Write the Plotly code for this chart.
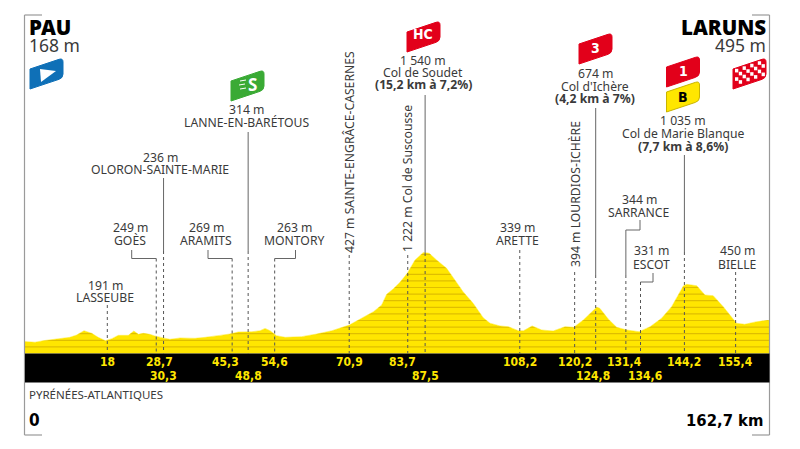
import plotly.graph_objects as go

# profile: km, metres
km = [0, 2.2, 4, 6.9, 9.8, 11.3, 12.9, 14.6, 16, 17.6, 19, 20.4, 22.6, 23.8, 24.8, 25.9, 27.3, 28.4, 29.9, 31.7,
      33.9, 36.1, 37.2, 39.4, 42.3, 44.8, 46.6, 49.6, 51.4, 52.5, 53.6, 55, 56.9, 60.5, 63.8, 67.1, 70.9, 73.3,
      76.2, 78, 79.1, 80.5, 82, 83.6, 85.3, 87.1, 88.4, 90, 92.2, 94, 95.8, 98, 100.2, 101.7, 103.9, 105.7, 107.9,
      109, 110.9, 113, 115.5, 118.1, 120, 122.1, 125, 125.7, 127.6, 129.4, 131.6, 134.3, 136.7, 139.2, 141.4,
      144, 144.7, 146.9, 148.7, 150.5, 152.7, 155.6, 157.4, 160, 162.5, 162.7]
elev = [180, 170, 194, 220, 245, 280, 345, 305, 245, 194, 225, 275, 275, 340, 290, 305, 290, 265, 240, 215,
        235, 230, 230, 245, 270, 295, 325, 330, 345, 380, 345, 270, 245, 255, 295, 345, 430, 522,
        633, 735, 897, 977, 1079, 1215, 1417, 1530, 1518, 1417, 1291, 1114, 936, 761, 542, 458, 417, 406, 345,
        345, 417, 356, 341, 406, 397, 508, 700, 685, 518, 397, 356, 330, 406, 533, 709,
        1027, 1048, 1027, 886, 876, 709, 458, 442, 482, 508, 500]

stripe_levels = list(range(100, 1600, 100))

# km marks in the black band: value, label, row, label shift in px
marks_km = [18, 28.7, 30.3, 45.3, 48.8, 54.6, 70.9, 83.7, 87.5, 108.2, 120.2, 124.8, 131.4, 134.6, 144.2, 155.4]
marks_txt = ["18", "28,7", "30,3", "45,3", "48,8", "54,6", "70,9", "83,7", "87,5", "108,2", "120,2", "124,8",
             "131,4", "134,6", "144,2", "155,4"]
marks_row = [0, 0, 1, 0, 1, 0, 0, 0, 1, 0, 0, 1, 0, 1, 0, 0]
marks_shift = [0, 3, 0, -7, 0, 0, 0, -5, 0, 0, 0, -3, -1, 4, 0, 0]

TEXT = "#3a3a3a"
GREY = "#9a9a9a"
RED = "#e2001a"
FONT = "Noto Sans"
NARROW = "DejaVu Sans Condensed, Roboto"

W, H = 800, 449
X0, X1 = 25, 769
Y0 = 353.5
PX_KM = (X1 - X0) / 162.7
PX_M = 0.066


def px(x):
    return x / W


def py(y):
    return 1 - y / H


def km_px(k):
    return X0 + k * PX_KM


fig = go.Figure()
fig.add_trace(go.Scatter(x=km, y=elev, fill="tozeroy", fillcolor="#ffe600", mode="none"))
for lev in stripe_levels:
    fig.add_trace(go.Scatter(x=[0, 162.7], y=[lev, lev], mode="lines", line=dict(color="#dfbe00", width=1.2)))
# white above the profile hides the stripes outside the hill
fig.add_trace(go.Scatter(x=km + [162.7, 0], y=elev + [1650, 1650], fill="toself", fillcolor="white", mode="none"))
fig.add_trace(go.Scatter(x=km, y=elev, mode="lines", line=dict(color="#ffe600", width=0.5)))

shapes = []
annots = []


def line(x0, y0, x1, y1, color=GREY, width=1.2, dash=None):
    shapes.append(dict(type="line", xref="paper", yref="paper", x0=px(x0), y0=py(y0), x1=px(x1), y1=py(y1),
                       line=dict(color=color, width=width, dash=dash)))


def text(x, y, s, size=12.2, color=TEXT, anchor="center", bold=False, family=FONT, angle=0, weight=None):
    if bold:
        s = "<b>" + s + "</b>"
    font = dict(size=size, color=color, family=family)
    if weight:
        font["weight"] = weight
    annots.append(dict(xref="paper", yref="paper", x=px(x), y=py(y), text=s, showarrow=False, xanchor=anchor,
                       yanchor="middle", textangle=angle, font=font, borderpad=0, borderwidth=0))


def flag_path(x, y, w=33, h=20, rise=11, r=4):
    # slanted flag with two rounded corners
    return (f"M {px(x)},{py(y)} L {px(x + w - r)},{py(y - rise + r * rise / w)} "
            f"Q {px(x + w)},{py(y - rise)} {px(x + w)},{py(y - rise + r)} L {px(x + w)},{py(y - rise + h - r)} "
            f"Q {px(x + w)},{py(y - rise + h)} {px(x + w - r)},{py(y - rise + h + r * rise / w)} "
            f"L {px(x)},{py(y + h)} Z")


def flag(x, y, fill, border=None, **kw):
    shapes.append(dict(type="path", xref="paper", yref="paper", path=flag_path(x, y, **kw), fillcolor=fill,
                       line=dict(color=border or fill, width=1)))


# frame
line(X0 - 0.5, 15, X0 - 0.5, 435)
line(X0 - 0.5, 15, 42, 15)
line(X0 - 0.5, 435, 42, 435)
line(X1 + 0.5, 15, X1 + 0.5, 435)
line(752, 15, X1 + 0.5, 15)
line(752, 435, X1 + 0.5, 435)

# black band
shapes.append(dict(type="rect", xref="paper", yref="paper", x0=px(X0), x1=px(X1 + 0.5), y0=py(Y0), y1=py(382.5),
                   fillcolor="black", line=dict(width=0)))
for k, t, row, sh in zip(marks_km, marks_txt, marks_row, marks_shift):
    text(km_px(k) + sh, 362 if row == 0 else 376, t, size=12, color="#ffe600", bold=True, family=NARROW)

# waypoints: km, top of dashed line, top of solid line (or None)
dashes = [(18, 305, None), (28.7, 258.5, None), (30.3, 178, 251), (45.3, 258.5, None), (48.8, 132, 251),
          (54.6, 258.5, None), (70.9, 255, None), (83.7, 255, None), (87.5, 95, 253), (108.2, 250, None),
          (120.2, 272, None), (124.8, 108, 275), (131.4, 230, 275), (134.6, 282, None), (144.2, 155, 252),
          (155.4, 272, None)]
for k, top, solid_end in dashes:
    x = km_px(k)
    if solid_end:
        line(x, top, x, solid_end, color="#666666", width=1)
        line(x, solid_end, x, Y0, color="#555555", width=1, dash="3px,3px")
    else:
        line(x, top, x, Y0, color="#555555", width=1, dash="3px,3px")

# elbows from a label to its line
elbows = [(131.7, 250, 258.5, 28.7), (208, 250, 258.5, 45.3), (295.5, 250, 258.5, 54.6),
          (640, 220, 230, 131.4), (653, 273, 282, 134.6)]
for x, y0, y1, k in elbows:
    line(x, y0, x, y1, color="#666666", width=1)
    line(x, y1, km_px(k), y1, color="#666666", width=1)

# labels
text(105, 285, "191 m")
text(105, 297, "LASSEUBE")
text(130, 227, "249 m")
text(130, 240, "GOÈS")
text(160, 157, "236 m")
text(160, 170, "OLORON-SAINTE-MARIE")
text(206, 227, "269 m")
text(206, 240, "ARAMITS")
text(246, 110, "314 m")
text(246, 122, "LANNE-EN-BARÉTOUS")
text(294, 227, "263 m")
text(294, 240, "MONTORY")
text(349, 152, "427 m SAINTE-ENGRÂCE-CASERNES", angle=-90)
text(407, 179, "1 222 m Col de Suscousse", angle=-90)
text(423, 60, "1 540 m")
text(423, 72, "Col de Soudet")
text(423, 85, "(15,2 km à 7,2%)", bold=True)
text(517, 227, "339 m")
text(517, 240, "ARETTE")
text(575, 194, "394 m LOURDIOS-ICHÈRE", angle=-90)
text(595, 73.5, "674 m")
text(595, 86, "Col d'Ichère")
text(595, 99, "(4,2 km à 7%)", bold=True)
text(639, 199, "344 m")
text(638, 212, "SARRANCE")
text(651, 251, "331 m")
text(651, 264, "ESCOT")
text(683, 120.5, "1 035 m")
text(683, 133, "Col de Marie Blanque")
text(683, 146, "(7,7 km à 8,6%)", bold=True)
text(737, 251, "450 m")
text(737, 264, "BIELLE")

# start and finish
text(29, 27, "PAU", size=20.5, color="black", anchor="left", weight=900)
text(29, 45, "168 m", size=17.5, anchor="left")
text(766, 27, "LARUNS", size=20.5, color="black", anchor="right", weight=900)
text(766, 45, "495 m", size=17.5, anchor="right")
text(29, 394, "PYRÉNÉES-ATLANTIQUES", size=11.5, anchor="left")
text(29, 420, "0", size=17, color="black", anchor="left", bold=True, family=NARROW)
text(763, 420, "162,7 km", size=16.5, color="black", anchor="right", bold=True, family=NARROW)

# flags
flag(30, 69, "#0f70b7")
shapes.append(dict(type="path", xref="paper", yref="paper", fillcolor="white", line=dict(width=0),
                   path=f"M {px(40)},{py(69)} L {px(56)},{py(71)} L {px(41)},{py(82)} Z"))
flag(231, 81, "#3aaa35")
text(253, 84, "S", size=17, color="white", bold=True)
for x0, y0, x1 in [(240, 81, 246), (239, 85, 245), (240, 89, 246)]:
    line(x0, y0, x1, y0 - 1, color="white", width=1)
flag(407, 32, RED)
text(423, 34, "HC", size=14, color="white", bold=True, family=NARROW)
flag(579, 44, RED)
text(595, 48, "3", size=14, color="white", bold=True, family=NARROW)
flag(666.5, 67, RED)
text(683, 71, "1", size=14, color="white", bold=True, family=NARROW)
flag(666.5, 92, "#ffe600", border="#c9b400")
text(683, 97, "B", size=14, color="black", bold=True, family=NARROW)
flag(733, 69, RED)
for col in range(8):
    for row in range(4):
        if (col + row) % 2 == 0:
            cx = 735 + col * 3.8
            cy = 69.5 + row * 4.2 - (cx - 733) / 3
            shapes.append(dict(type="rect", xref="paper", yref="paper", x0=px(cx), x1=px(cx + 3.3),
                               y0=py(cy), y1=py(cy + 3.6), fillcolor="white", line=dict(width=0)))

fig.update_layout(
    width=W, height=H, margin=dict(l=0, r=0, t=0, b=0), showlegend=False,
    plot_bgcolor="white", paper_bgcolor="white", shapes=shapes, annotations=annots,
    xaxis=dict(visible=False, range=[-X0 / PX_KM, (W - X0) / PX_KM]),
    yaxis=dict(visible=False, range=[-(H - Y0) / PX_M, Y0 / PX_M]),
)
fig.write_html("out.html", config=dict(displayModeBar=False), post_script="document.body.style.margin='0';")
